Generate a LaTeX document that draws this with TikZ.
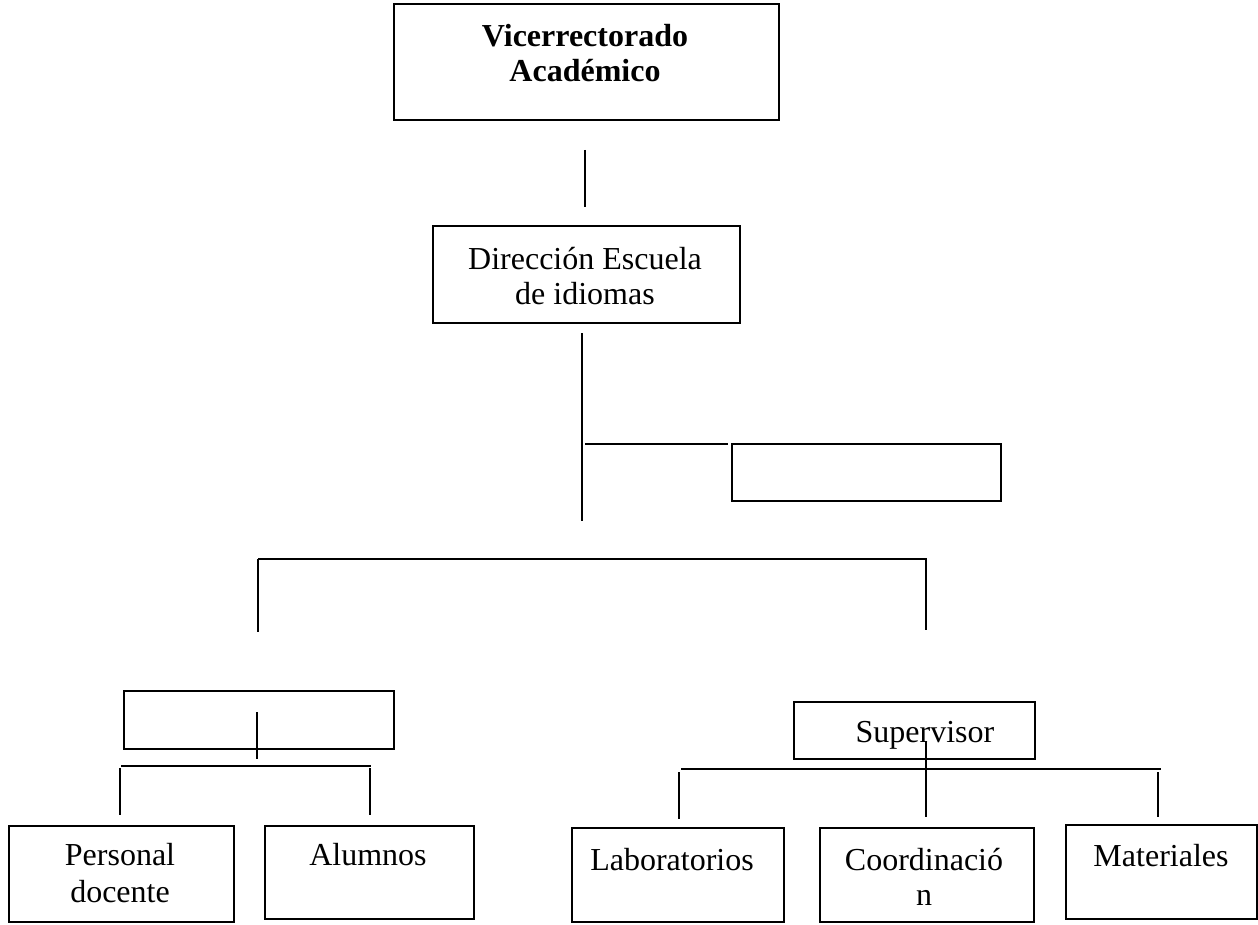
\documentclass[tikz,border=0pt]{standalone}
\usepackage{fontspec}
\setmainfont{Liberation Serif}
\begin{document}
\begin{tikzpicture}[x=1pt,y=1pt,
  box/.style={draw, line width=1.8pt, inner sep=0pt, anchor=north west},
  txt/.style={font=\fontsize{32}{36}\selectfont, anchor=base, inner sep=0pt},
  ln/.style={line width=1.8pt}]
\useasboundingbox (0,0) rectangle (1258,-925);
% boxes
\node[box, minimum width=385pt, minimum height=116pt] (vr) at (393,-3) {};
\node[box, minimum width=307pt, minimum height=97pt] (dir) at (432,-225) {};
\node[box, minimum width=269pt, minimum height=57pt] (emr) at (731,-443) {};
\node[box, minimum width=270pt, minimum height=58pt] (eml) at (123,-690) {};
\node[box, minimum width=225pt, minimum height=96pt] (per) at (8,-825) {};
\node[box, minimum width=209pt, minimum height=93pt] (alu) at (264,-825) {};
\node[box, minimum width=241pt, minimum height=57pt] (sup) at (793,-701) {};
\node[box, minimum width=212pt, minimum height=94pt] (lab) at (571,-827) {};
\node[box, minimum width=214pt, minimum height=94pt] (coo) at (819,-827) {};
\node[box, minimum width=191pt, minimum height=94pt] (mat) at (1065,-824) {};
% texts
\node[txt, font=\fontsize{32}{36}\bfseries] (t1a) at (585,-47) {Vicerrectorado};
\node[txt, font=\fontsize{32}{36}\bfseries] (t1b) at (585,-82) {Académico};
\node[txt] (t2a) at (585,-270) {Dirección Escuela};
\node[txt] (t2b) at (585,-305) {de idiomas};
\node[txt] (t3a) at (120,-865) {Personal};
\node[txt] (t3b) at (120,-902) {docente};
\node[txt] (t4) at (368,-865) {Alumnos};
\node[txt] (t5) at (925,-742) {Supervisor};
\node[txt] (t6) at (672,-870) {Laboratorios};
\node[txt] (t7a) at (924,-870) {Coordinació};
\node[txt] (t7b) at (924,-905) {n};
\node[txt] (t8) at (1161,-866) {Materiales};
% connector end points
\coordinate (c1a) at (585,-150); \coordinate (c1b) at (585,-207);
\coordinate (c2a) at (582,-333); \coordinate (c2b) at (582,-521);
\coordinate (c3a) at (585,-444); \coordinate (c3b) at (728,-444);
\coordinate (c4a) at (258,-559); \coordinate (c4b) at (927,-559);
\coordinate (c5b) at (258,-632);
\coordinate (c6a) at (926,-559); \coordinate (c6b) at (926,-630);
\coordinate (c7a) at (257,-712); \coordinate (c7b) at (257,-759);
\coordinate (c8a) at (121,-766); \coordinate (c8b) at (371,-766);
\coordinate (c9a) at (120,-768); \coordinate (c9b) at (120,-815);
\coordinate (c10a) at (370,-768); \coordinate (c10b) at (370,-815);
\coordinate (c11a) at (681,-769); \coordinate (c11b) at (1161,-769);
\coordinate (c12a) at (679,-772); \coordinate (c12b) at (679,-819);
\coordinate (c13a) at (926,-741); \coordinate (c13b) at (926,-817);
\coordinate (c14a) at (1158,-772); \coordinate (c14b) at (1158,-817);
% connectors
\draw[ln] (c1a) -- (c1b);
\draw[ln] (c2a) -- (c2b);
\draw[ln] (c3a) -- (c3b);
\draw[ln] (c4a) -- (c4b);
\draw[ln] (c4a) -- (c5b);
\draw[ln] (c6a) -- (c6b);
\draw[ln] (c7a) -- (c7b);
\draw[ln] (c8a) -- (c8b);
\draw[ln] (c9a) -- (c9b);
\draw[ln] (c10a) -- (c10b);
\draw[ln] (c11a) -- (c11b);
\draw[ln] (c12a) -- (c12b);
\draw[ln] (c13a) -- (c13b);
\draw[ln] (c14a) -- (c14b);
\end{tikzpicture}
\end{document}
